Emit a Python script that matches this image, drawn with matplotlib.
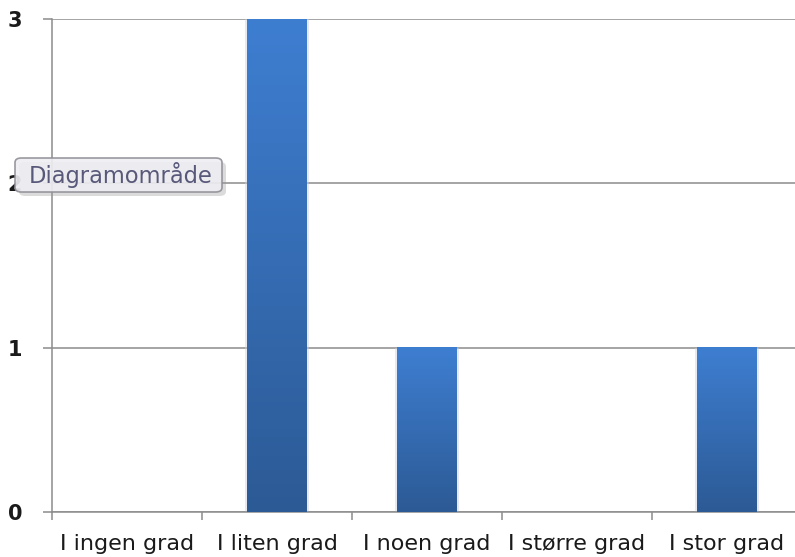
import numpy as np
import matplotlib.pyplot as plt
from matplotlib.colors import LinearSegmentedColormap
from matplotlib.patches import FancyBboxPatch

# svarfordeling
kategorier = ["I ingen grad", "I liten grad", "I noen grad", "I større grad", "I stor grad"]
antall = [0, 3, 1, 0, 1]
y_ticks = [0, 1, 2, 3]

W, H = 795, 557
fig = plt.figure(figsize=(W / 100, H / 100), dpi=100)
# plottområdet går litt utenfor høyre kant
ax = fig.add_axes([52 / W, (H - 512) / H, 750 / W, 493 / H])

x = np.arange(len(kategorier))
bredde = 0.4

# blå gradient fra topp til bunn
blaa = LinearSegmentedColormap.from_list("blaa", ["#2c5a95", "#3e7ed1"])
grad = np.linspace(0, 1, 256).reshape(-1, 1)

for xi, v in zip(x, antall):
    if v <= 0:
        continue
    # svak skygge rundt søylen
    ax.bar(xi, v, width=bredde + 0.025, color="#c9d2de", alpha=0.45, zorder=2, linewidth=0)
    ax.imshow(grad, extent=[xi - bredde / 2, xi + bredde / 2, 0, v], origin="lower",
              aspect="auto", cmap=blaa, zorder=3, interpolation="bilinear")

ax.set_xlim(-0.5, len(kategorier) - 0.5)
ax.set_ylim(0, 3)

ax.set_yticks(y_ticks)
ax.set_yticklabels([str(t) for t in y_ticks])
ax.yaxis.grid(True, color="#8c8c8c", linewidth=1.1)
ax.set_axisbelow(True)

ax.set_xticks(x)
ax.set_xticklabels(kategorier)
ax.set_xticks(np.arange(-0.5, len(kategorier)), minor=True)

ax.tick_params(axis="x", which="major", length=0, pad=16, labelsize=16, labelcolor="#1a1a1a")
ax.tick_params(axis="x", which="minor", length=6, width=1.1, color="#8c8c8c", direction="out")
ax.tick_params(axis="y", length=6.5, width=1.1, color="#8c8c8c", pad=15,
               labelsize=15, labelcolor="#1a1a1a")
for lbl in ax.get_yticklabels():
    lbl.set_fontweight("bold")

for side in ["top", "right"]:
    ax.spines[side].set_visible(False)
for side in ["left", "bottom"]:
    ax.spines[side].set_color("#8c8c8c")
    ax.spines[side].set_linewidth(1.1)

# verktøytips "Diagramområde"
bx, by, bw, bh = 15, 158, 207, 34
skygge = FancyBboxPatch(((bx + 4) / W, (H - by - bh - 4) / H), bw / W, bh / H,
                        boxstyle="round,pad=0,rounding_size=0.008",
                        transform=fig.transFigure, facecolor="#9a9a9a", alpha=0.35,
                        edgecolor="none", zorder=10)
boks = FancyBboxPatch((bx / W, (H - by - bh) / H), bw / W, bh / H,
                      boxstyle="round,pad=0,rounding_size=0.008",
                      transform=fig.transFigure, facecolor="#eeeef3", alpha=0.9,
                      edgecolor="#8f8f96", linewidth=1.2, zorder=11)
fig.patches.extend([skygge, boks])
fig.text((bx + bw / 2 + 2) / W, (H - by - bh / 2) / H, "Diagramområde", ha="center", va="center",
         fontsize=16.3, color="#58587a", zorder=12)

fig.savefig("out.png", dpi=100)
